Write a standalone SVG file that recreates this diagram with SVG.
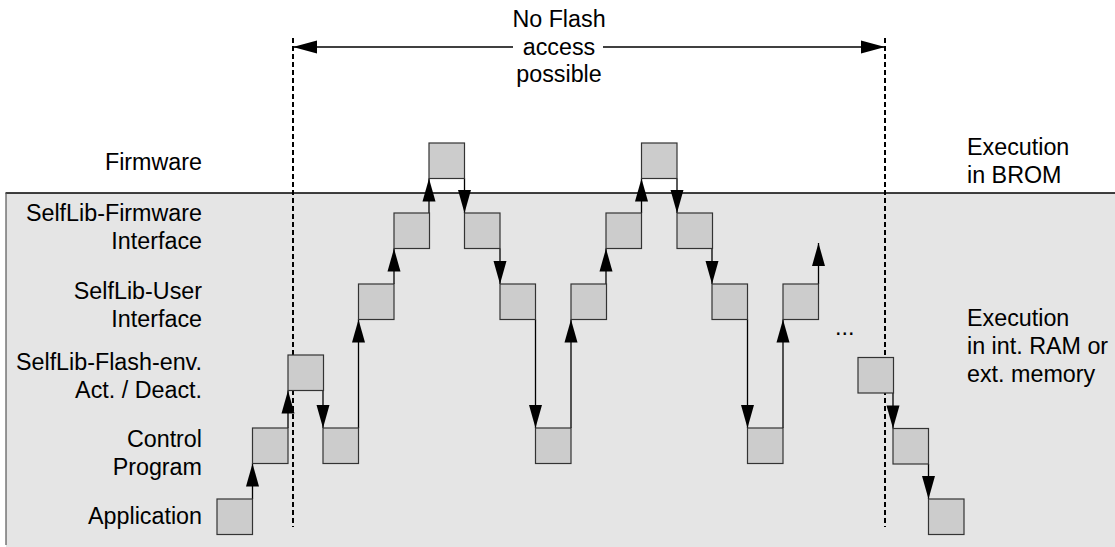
<svg xmlns="http://www.w3.org/2000/svg" width="1115" height="547" viewBox="0 0 1115 547">
<style>
text{font-family:"Liberation Sans",Arial,Helvetica,sans-serif;font-size:23.3px;fill:#000}
.r{text-anchor:end}
.m{text-anchor:middle}
.box{fill:#cccccc;stroke:#333333;stroke-width:1.2}
.c{stroke:#000;stroke-width:1.3;fill:none;marker-end:url(#ah)}
.dash{stroke:#000;stroke-width:2;stroke-dasharray:5,3;fill:none}
</style>
<defs>
<marker id="ah" markerUnits="userSpaceOnUse" markerWidth="24" markerHeight="13" refX="23" refY="6.5" orient="auto" overflow="visible">
<path d="M0,0 L23,6.5 L0,13 z" fill="#000"/>
</marker>
<marker id="ah2" markerUnits="userSpaceOnUse" markerWidth="25" markerHeight="13" refX="24" refY="6.5" orient="auto" overflow="visible">
<path d="M0,0 L24,6.5 L0,13 z" fill="#000"/>
</marker>
</defs>
<rect x="6" y="193" width="1115" height="360" fill="#e5e5e5"/>
<line x1="5.5" y1="193" x2="1115" y2="193" stroke="#000" stroke-width="1.3"/>
<line x1="6" y1="193" x2="6" y2="545" stroke="#555" stroke-width="1.2"/>

<g id="labels-left">
<text class="r" x="202" y="170">Firmware</text>
<text class="r" x="202" y="221">SelfLib-Firmware</text>
<text class="r" x="202" y="249">Interface</text>
<text class="r" x="202" y="299">SelfLib-User</text>
<text class="r" x="202" y="327">Interface</text>
<text class="r" x="202" y="370">SelfLib-Flash-env.</text>
<text class="r" x="202" y="398">Act. / Deact.</text>
<text class="r" x="202" y="447">Control</text>
<text class="r" x="202" y="475">Program</text>
<text class="r" x="202" y="524">Application</text>
</g>
<g id="labels-right">
<text x="967" y="155">Execution</text>
<text x="967" y="183">in BROM</text>
<text x="967" y="326">Execution</text>
<text x="967" y="354">in int. RAM or</text>
<text x="967" y="382">ext. memory</text>
<text x="835" y="335">...</text>
</g>
<g id="no-flash">
<line class="dash" x1="293" y1="38" x2="293" y2="527"/>
<line class="dash" x1="885" y1="38" x2="885" y2="527"/>
<line x1="513" y1="47" x2="293" y2="47" stroke="#000" stroke-width="1.3" marker-end="url(#ah2)"/>
<line x1="603" y1="47" x2="885" y2="47" stroke="#000" stroke-width="1.3" marker-end="url(#ah2)"/>
<text class="m" x="559" y="27">No Flash</text>
<text class="m" x="559" y="55">access</text>
<text class="m" x="559" y="82">possible</text>
</g>

<g id="connectors">
<line class="c" x1="252.5" y1="499" x2="252.5" y2="463.5"/>
<line class="c" x1="288" y1="428" x2="288" y2="390.5"/>
<line class="c" x1="323" y1="390.5" x2="323" y2="428"/>
<line class="c" x1="358.5" y1="428" x2="358.5" y2="319.5"/>
<line class="c" x1="394" y1="284" x2="394" y2="248.5"/>
<line class="c" x1="429" y1="213" x2="429" y2="178.5"/>
<line class="c" x1="464.5" y1="178.5" x2="464.5" y2="213"/>
<line class="c" x1="500" y1="248.5" x2="500" y2="284"/>
<line class="c" x1="535.5" y1="319.5" x2="535.5" y2="428"/>
<line class="c" x1="571" y1="428" x2="571" y2="319.5"/>
<line class="c" x1="606" y1="284" x2="606" y2="248.5"/>
<line class="c" x1="641.5" y1="213" x2="641.5" y2="178.5"/>
<line class="c" x1="677" y1="178.5" x2="677" y2="213"/>
<line class="c" x1="712" y1="248.5" x2="712" y2="284"/>
<line class="c" x1="747.5" y1="319.5" x2="747.5" y2="428"/>
<line class="c" x1="783" y1="428" x2="783" y2="319.5"/>
<line class="c" x1="818.5" y1="284" x2="818.5" y2="243"/>
<line class="c" x1="893" y1="393" x2="893" y2="428.5"/>
<line class="c" x1="928.5" y1="464" x2="928.5" y2="499"/>
</g>

<g id="b0"><rect class="box" x="217" y="499" width="35.5" height="35.5"/></g>
<g id="b1"><rect class="box" x="252.5" y="428" width="35.5" height="35.5"/></g>
<g id="b2"><rect class="box" x="288" y="355" width="35.5" height="35.5"/></g>
<g id="b3"><rect class="box" x="323" y="428" width="35.5" height="35.5"/></g>
<g id="b4"><rect class="box" x="358.5" y="284" width="35.5" height="35.5"/></g>
<g id="b5"><rect class="box" x="394" y="213" width="35.5" height="35.5"/></g>
<g id="b6"><rect class="box" x="429" y="143" width="35.5" height="35.5"/></g>
<g id="b7"><rect class="box" x="464.5" y="213" width="35.5" height="35.5"/></g>
<g id="b8"><rect class="box" x="500" y="284" width="35.5" height="35.5"/></g>
<g id="b9"><rect class="box" x="535.5" y="428" width="35.5" height="35.5"/></g>
<g id="b10"><rect class="box" x="571" y="284" width="35.5" height="35.5"/></g>
<g id="b11"><rect class="box" x="606" y="213" width="35.5" height="35.5"/></g>
<g id="b12"><rect class="box" x="641.5" y="143" width="35.5" height="35.5"/></g>
<g id="b13"><rect class="box" x="677" y="213" width="35.5" height="35.5"/></g>
<g id="b14"><rect class="box" x="712" y="284" width="35.5" height="35.5"/></g>
<g id="b15"><rect class="box" x="747.5" y="428" width="35.5" height="35.5"/></g>
<g id="b16"><rect class="box" x="783" y="284" width="35.5" height="35.5"/></g>
<g id="b17"><rect class="box" x="858" y="357.5" width="35.5" height="35.5"/></g>
<g id="b18"><rect class="box" x="893" y="428.5" width="35.5" height="35.5"/></g>
<g id="b19"><rect class="box" x="928.5" y="499" width="35.5" height="35.5"/></g>
</svg>
